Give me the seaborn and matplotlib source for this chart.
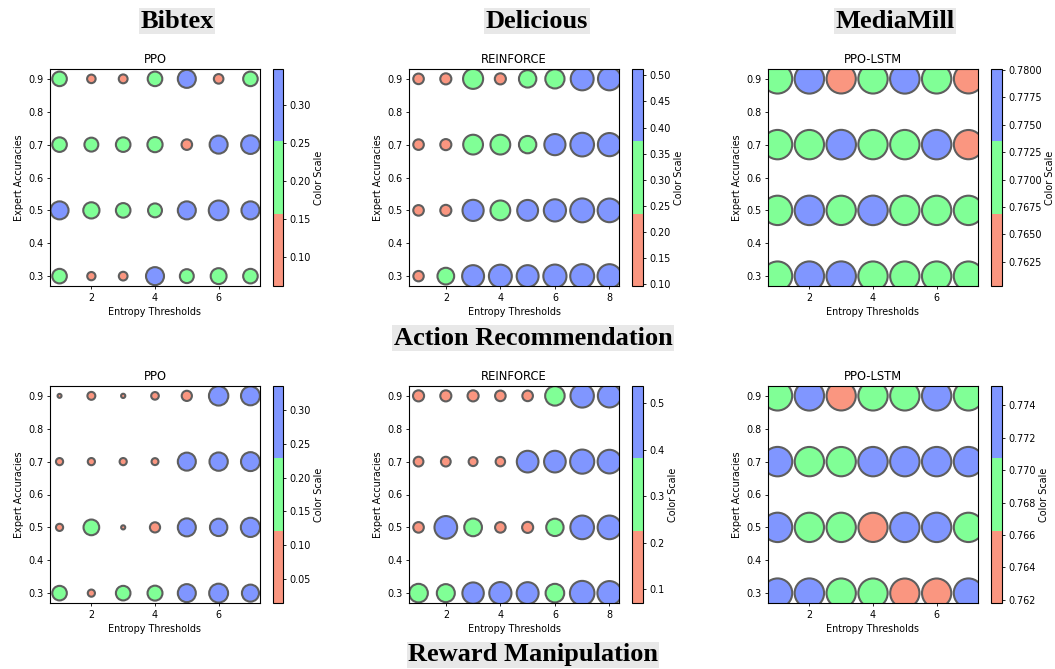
import matplotlib
matplotlib.use("Agg")
import numpy as np
import pandas as pd
import matplotlib.pyplot as plt
from matplotlib.colors import ListedColormap, Normalize
from matplotlib.cm import ScalarMappable
from matplotlib.ticker import MultipleLocator
import seaborn as sns

# ---------------------------------------------------------------- data
# Rows of every grid follow these expert accuracies (top row of the plot first)
expert_accuracies = [0.9, 0.7, 0.5, 0.3]
thresholds_7 = [1, 2, 3, 4, 5, 6, 7]
thresholds_8 = [1, 2, 3, 4, 5, 6, 7, 8]

datasets = ["Bibtex", "Delicious", "MediaMill"]
algorithms = ["PPO", "REINFORCE", "PPO-LSTM"]
sections = ["Action Recommendation", "Reward Manipulation"]

# Action Recommendation
bibtex_action = [
    [0.19, 0.065, 0.070, 0.19, 0.29, 0.082, 0.19],
    [0.19, 0.173, 0.19, 0.206, 0.10, 0.29, 0.31],
    [0.29, 0.235, 0.19, 0.173, 0.29, 0.348, 0.29],
    [0.19, 0.061, 0.068, 0.29, 0.173, 0.226, 0.19],
]
delicious_action = [
    [0.10, 0.11, 0.36, 0.11, 0.27, 0.33, 0.47, 0.47],
    [0.10, 0.11, 0.35, 0.35, 0.27, 0.40, 0.50, 0.48],
    [0.10, 0.11, 0.40, 0.35, 0.39, 0.44, 0.51, 0.50],
    [0.097, 0.25, 0.43, 0.47, 0.43, 0.48, 0.512, 0.51],
]
mediamill_action = [
    [0.7712, 0.7768, 0.7641, 0.7705, 0.7779, 0.7697, 0.7603],
    [0.7716, 0.7701, 0.7801, 0.7690, 0.7722, 0.7757, 0.7652],
    [0.7708, 0.7762, 0.7693, 0.7786, 0.7719, 0.7684, 0.7711],
    [0.7699, 0.7745, 0.7771, 0.7714, 0.7688, 0.7727, 0.7703],
]

# Reward Manipulation
bibtex_reward = [
    [0.014, 0.056, 0.016, 0.052, 0.093, 0.336, 0.32],
    [0.046, 0.046, 0.046, 0.043, 0.29, 0.30, 0.32],
    [0.046, 0.22, 0.015, 0.093, 0.29, 0.27, 0.33],
    [0.19, 0.046, 0.19, 0.20, 0.29, 0.32, 0.26],
]
delicious_reward = [
    [0.11, 0.11, 0.11, 0.10, 0.10, 0.34, 0.49, 0.48],
    [0.085, 0.085, 0.071, 0.08, 0.42, 0.42, 0.52, 0.50],
    [0.10, 0.46, 0.28, 0.10, 0.11, 0.27, 0.50, 0.50],
    [0.31, 0.29, 0.41, 0.44, 0.43, 0.31, 0.537, 0.52],
]
mediamill_reward = [
    [0.7683, 0.7731, 0.7630, 0.7690, 0.7678, 0.7725, 0.7688],
    [0.7741, 0.7695, 0.7686, 0.7722, 0.7739, 0.7712, 0.7733],
    [0.7718, 0.7681, 0.7699, 0.7618, 0.7745, 0.7727, 0.7692],
    [0.7736, 0.7752, 0.7689, 0.7676, 0.7641, 0.7652, 0.7729],
]

xticks_7 = [2, 4, 6]
xticks_8 = [2, 4, 6, 8]
yticks = [0.3, 0.4, 0.5, 0.6, 0.7, 0.8, 0.9]

# ---------------------------------------------------------------- style
sns.set_style("ticks")
plt.rcParams.update({
    "font.family": ["DejaVu Sans"],
    "font.size": 7,
    "axes.titlesize": 8.3,
    "axes.labelsize": 6.9,
    "xtick.labelsize": 6.9,
    "ytick.labelsize": 6.9,
    "xtick.major.size": 2.4,
    "ytick.major.size": 2.4,
    "xtick.major.width": 0.6,
    "ytick.major.width": 0.6,
    "xtick.major.pad": 2.4,
    "ytick.major.pad": 2.4,
    "axes.edgecolor": "black",
    "axes.linewidth": 0.8,
    "xtick.color": "black",
    "ytick.color": "black",
    "text.color": "black",
    "axes.labelcolor": "black",
    "axes.labelpad": 2.8,
    "axes.titlepad": 4.2,
})

band_colors = ListedColormap(["#FA9680", "#80FF96", "#8096FF"])
edge_color = "#5e5e5e"
area_per_unit = 580.0  # marker area (pt^2) per unit of value

W, H = 1055, 669
fig = plt.figure(figsize=(W / 100, H / 100), dpi=100)


def rect(left, top, right, bottom):
    return [left / W, 1 - bottom / H, (right - left) / W, (bottom - top) / H]


col_axes = [(50, 260), (409, 619), (768, 978)]
col_cbar = [(273, 283), (632, 643), (991, 1002)]
row_span = [(69, 286), (386, 603)]

grids = [
    [bibtex_action, delicious_action, mediamill_action],
    [bibtex_reward, delicious_reward, mediamill_reward],
]
cbar_steps = [[0.05, 0.05, 0.0025], [0.05, 0.1, 0.002]]

for r, row in enumerate(grids):
    top, bottom = row_span[r]
    for c, grid in enumerate(row):
        values = np.asarray(grid, dtype=float)
        xs = thresholds_7 if values.shape[1] == 7 else thresholds_8
        df = pd.DataFrame({
            "threshold": np.tile(xs, len(expert_accuracies)),
            "accuracy": np.repeat(expert_accuracies, len(xs)),
            "value": values.ravel(),
        })
        vmin, vmax = df["value"].min(), df["value"].max()
        norm = Normalize(vmin, vmax)

        ax = fig.add_axes(rect(col_axes[c][0], top, col_axes[c][1], bottom))
        sns.scatterplot(
            data=df, x="threshold", y="accuracy",
            hue="value", palette=band_colors, hue_norm=norm,
            size="value", sizes=(0, area_per_unit * vmax), size_norm=(0, vmax),
            edgecolor=edge_color, linewidth=1.5, legend=False, ax=ax,
        )
        ax.set_title(algorithms[c])
        ax.set_xlabel("Entropy Thresholds")
        ax.set_ylabel("Expert Accuracies")
        ax.set_xticks(xticks_7 if len(xs) == 7 else xticks_8)
        ax.set_yticks(yticks)
        for s in ax.spines.values():
            s.set_visible(True)

        cax = fig.add_axes(rect(col_cbar[c][0], top, col_cbar[c][1], bottom))
        cb = fig.colorbar(ScalarMappable(norm=norm, cmap=band_colors), cax=cax)
        cb.locator = MultipleLocator(cbar_steps[r][c])
        cb.update_ticks()
        cb.outline.set_linewidth(0.8)
        cb.set_label("Color Scale", fontsize=6.9, labelpad=2)

# ---------------------------------------------------------------- headings
heading_style = dict(
    ha="center", va="center", fontsize=19, fontweight="bold",
    family=["Liberation Serif", "DejaVu Serif"],
    bbox=dict(boxstyle="square,pad=0.05", facecolor="#e8e8e8", edgecolor="none"),
)
for name, x in zip(datasets, [177, 537, 895]):
    fig.text(x / W, 1 - 21 / H, name, **heading_style)
fig.text(533 / W, 1 - 338 / H, sections[0], **heading_style)
fig.text(533 / W, 1 - 655 / H, sections[1], **heading_style)

fig.savefig("out.png", dpi=100, facecolor="white")
